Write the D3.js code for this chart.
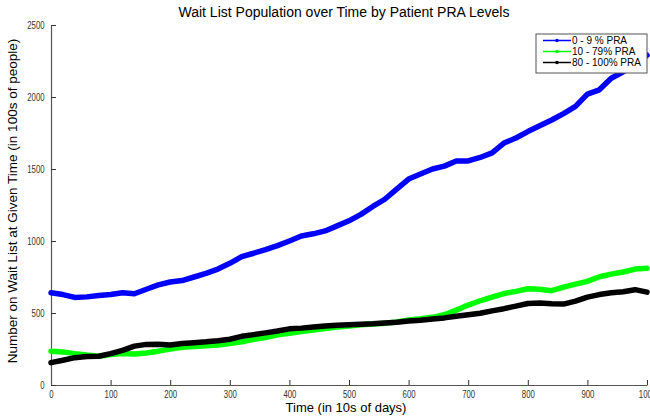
<!DOCTYPE html>
<html>
<head>
<meta charset="utf-8">
<script src="https://cdn.jsdelivr.net/npm/d3@7"></script>
<style>
  body { margin: 0; background: #fff; }
  svg text { font-family: "Liberation Sans", Arial, sans-serif; }
</style>
</head>
<body>
<div id="chart"></div>
<script>
// time samples (in 10s of days)
var times = d3.range(0, 1001, 20);

var series_names = ['0 - 9 % PRA', '10 - 79% PRA', '80 - 100% PRA'];
var series_colors = ['#0000ff', '#00ff00', '#000000'];

var low_pra = [640, 628, 608, 612, 622, 628, 640, 634, 665, 695,
  715, 725, 750, 775, 805, 845, 892, 915, 940, 968,
  1000, 1035, 1050, 1070, 1105, 1140, 1185, 1240, 1290, 1360,
  1430, 1465, 1500, 1520, 1555, 1556, 1580, 1612, 1680, 1715,
  1760, 1800, 1840, 1885, 1935, 2020, 2050, 2130, 2175, 2230, 2290];

var mid_pra = [235, 230, 218, 208, 200, 212, 218, 215, 222, 235,
  250, 262, 268, 272, 278, 288, 300, 318, 330, 348,
  360, 372, 382, 392, 402, 410, 418, 424, 428, 438,
  452, 460, 470, 488, 520, 555, 585, 610, 635, 650,
  668, 665, 655, 680, 700, 720, 752, 770, 785, 805, 810];

var high_pra = [155, 172, 190, 198, 200, 218, 240, 270, 282, 283,
  278, 288, 294, 300, 308, 318, 338, 350, 362, 375,
  390, 395, 402, 410, 415, 418, 422, 425, 430, 436,
  445, 450, 458, 466, 478, 488, 498, 515, 530, 548,
  566, 570, 564, 562, 582, 610, 628, 640, 648, 662, 645];

var x_ticks = [0, 100, 200, 300, 400, 500, 600, 700, 800, 900, 1000];
var y_ticks = [0, 500, 1000, 1500, 2000, 2500];

var chart_width = 650;
var chart_height = 419;
var plot_left = 51, plot_right = 647, plot_top = 25, plot_bottom = 385;

var svg = d3.select('#chart')
  .append('svg')
  .attr('width', chart_width)
  .attr('height', chart_height);

var x_scale = d3.scaleLinear().domain([0, 1000]).range([plot_left, plot_right]);
var y_scale = d3.scaleLinear().domain([0, 2500]).range([plot_bottom, plot_top]);

// axes (ticks pointing inward like matlab)
var x_axis = d3.axisBottom(x_scale).tickValues(x_ticks).tickFormat(d3.format('d'))
  .tickSizeInner(-5).tickSizeOuter(0).tickPadding(8);
var y_axis = d3.axisLeft(y_scale).tickValues(y_ticks).tickFormat(d3.format('d'))
  .tickSizeInner(-5).tickSizeOuter(0).tickPadding(7);

var gx = svg.append('g')
  .attr('transform', 'translate(0,' + plot_bottom + ')')
  .call(x_axis);
var gy = svg.append('g')
  .attr('transform', 'translate(' + plot_left + ',0)')
  .call(y_axis);

[gx, gy].forEach(function(g) {
  g.select('.domain').attr('stroke', '#555').attr('stroke-width', 1.2);
  g.selectAll('.tick line').attr('stroke', '#333');
  g.selectAll('.tick text')
    .attr('fill', '#333')
    .style('font-size', '10px');
});
// narrow tick labels, as in the original
gx.selectAll('.tick text').attr('dy', '0.5em').attr('transform', 'scale(0.78,1)');
gy.selectAll('.tick text').attr('transform', 'translate(-1,0) scale(0.78,1)');

// lines
var all_series = [low_pra, mid_pra, high_pra];
var line = d3.line()
  .x(function(d, i) { return x_scale(times[i]); })
  .y(function(d) { return y_scale(d); });

var plot = svg.append('g');
// blue, green, then black on top
all_series.forEach(function(s, k) {
  plot.append('path')
    .datum(s)
    .attr('fill', 'none')
    .attr('stroke', series_colors[k])
    .attr('stroke-width', 5.5)
    .attr('stroke-linejoin', 'round')
    .attr('stroke-linecap', 'round')
    .attr('d', line);
});

// title and labels
svg.append('text')
  .attr('x', 344)
  .attr('y', 17)
  .attr('text-anchor', 'middle')
  .style('font-size', '14px')
  .text('Wait List Population over Time by Patient PRA Levels');

svg.append('text')
  .attr('x', 346)
  .attr('y', 412)
  .attr('text-anchor', 'middle')
  .style('font-size', '13px')
  .text('Time (in 10s of days)');

svg.append('text')
  .attr('transform', 'translate(17,201) rotate(-90)')
  .attr('text-anchor', 'middle')
  .style('font-size', '13.5px')
  .text('Number on Wait List at Given Time (in 100s of people)');

// legend
var legend = svg.append('g').attr('transform', 'translate(536,34)');
legend.append('rect')
  .attr('width', 111)
  .attr('height', 39)
  .attr('fill', '#fff')
  .attr('stroke', '#555');

series_names.forEach(function(name, k) {
  var row = legend.append('g').attr('transform', 'translate(0,' + (6.5 + k * 11) + ')');
  row.append('line')
    .attr('x1', 7).attr('x2', 35)
    .attr('stroke', series_colors[k])
    .attr('stroke-width', 1.5);
  row.append('circle')
    .attr('cx', 21).attr('r', 1.8)
    .attr('fill', series_colors[k]);
  row.append('text')
    .attr('x', 36)
    .attr('dy', '0.35em')
    .style('font-size', '10px')
    .text(name);
});
</script>
</body>
</html>
